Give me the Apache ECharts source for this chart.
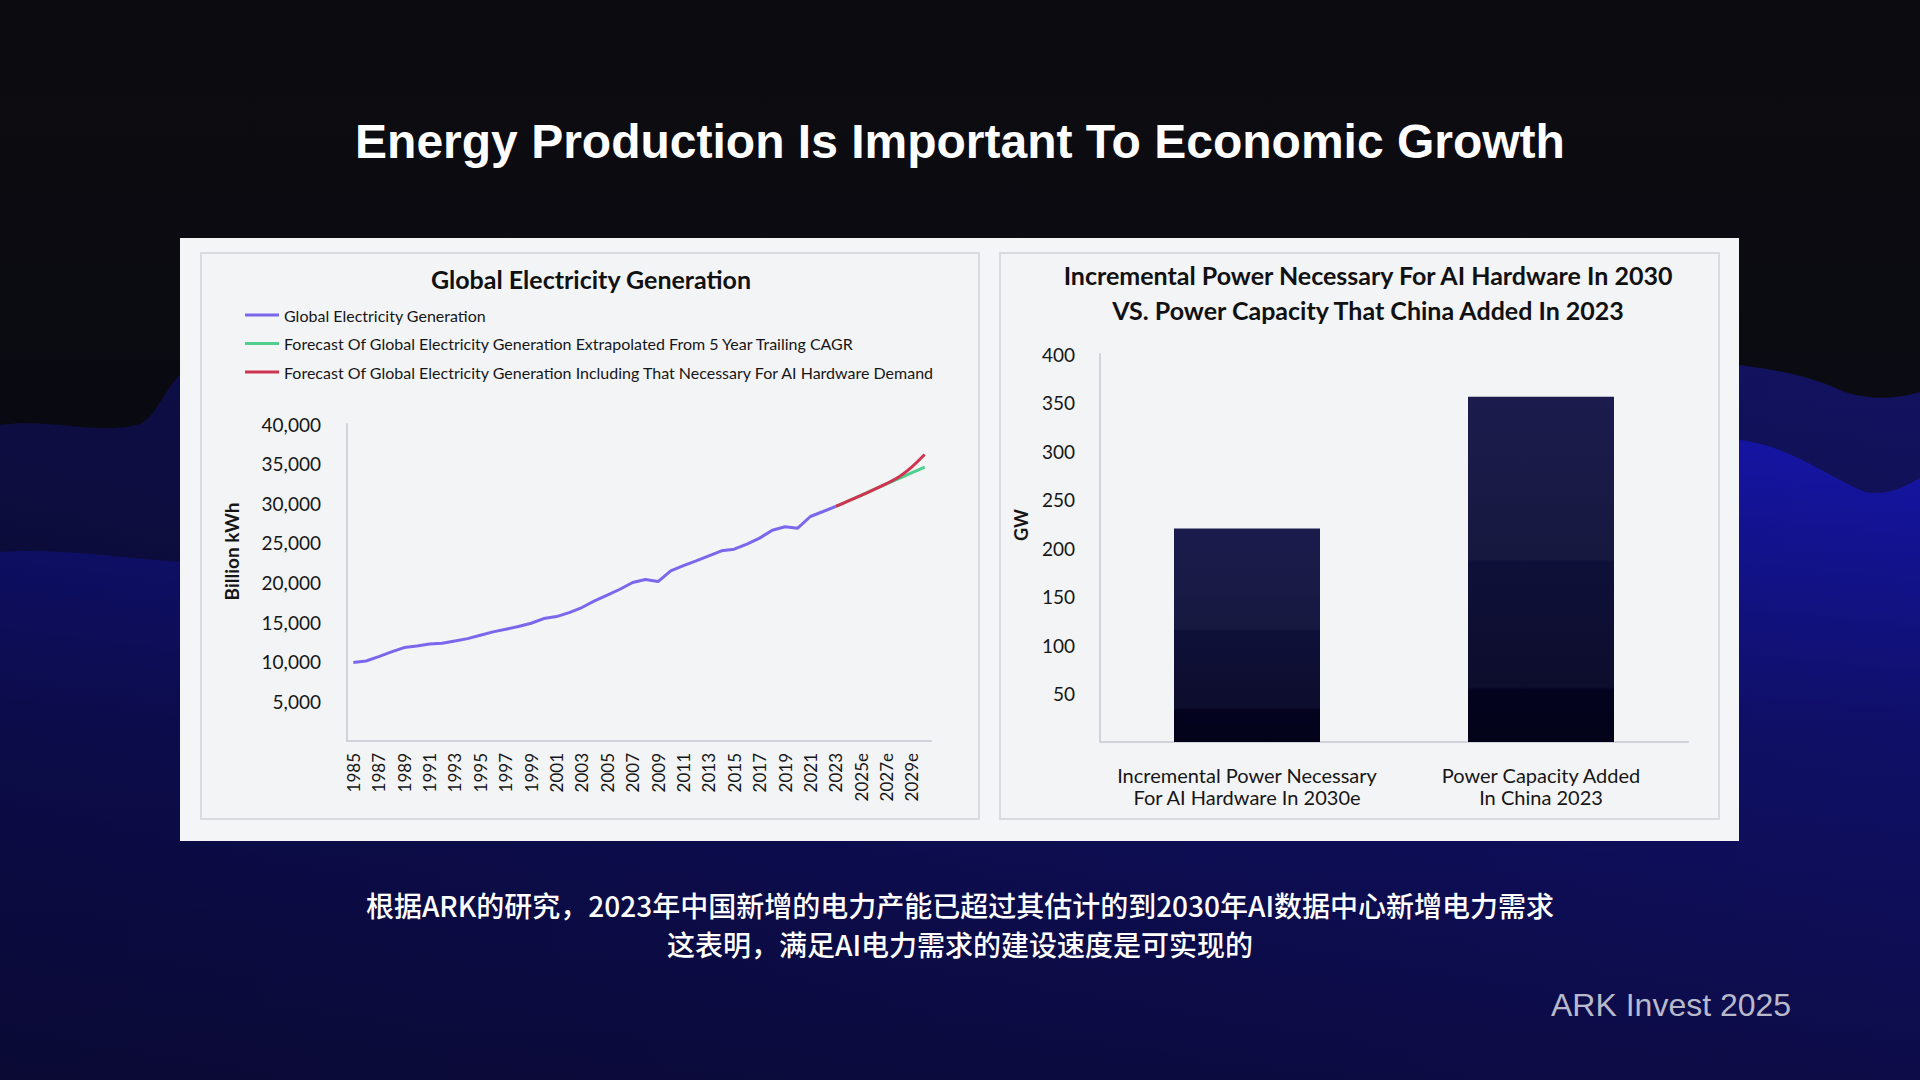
<!DOCTYPE html>
<html>
<head>
<meta charset="utf-8">
<script src="https://cdn.jsdelivr.net/npm/echarts@6/dist/echarts.min.js"></script>
<style>
html,body{margin:0;padding:0;width:1920px;height:1080px;overflow:hidden;background:#0b0b10;}
#bg{position:absolute;left:0;top:0;width:1920px;height:1080px;}
.panel{position:absolute;left:180px;top:238px;width:1559px;height:603px;background:#f4f5f7;}
.box{position:absolute;top:252px;height:568px;background:#f3f4f6;border:2px solid #d9dbe0;box-sizing:border-box;}
#chart{position:absolute;left:0;top:0;width:1920px;height:1080px;}
</style>
</head>
<body>
<svg id="bg" width="1920" height="1080" viewBox="0 0 1920 1080" xmlns="http://www.w3.org/2000/svg">
  <defs>
    <linearGradient id="base" x1="0" y1="0" x2="0" y2="1">
      <stop offset="0" stop-color="#0c0c10"/>
      <stop offset="0.4" stop-color="#0b0b13"/>
      <stop offset="1" stop-color="#0a0a26"/>
    </linearGradient>
    <linearGradient id="w1" gradientUnits="userSpaceOnUse" x1="0" y1="360" x2="0" y2="1080">
      <stop offset="0" stop-color="#121262"/>
      <stop offset="1" stop-color="#0a0a28"/>
    </linearGradient>
    <linearGradient id="w2" gradientUnits="userSpaceOnUse" x1="0" y1="440" x2="0" y2="1080">
      <stop offset="0" stop-color="#1515a8"/>
      <stop offset="0.45" stop-color="#0f0f68"/>
      <stop offset="1" stop-color="#0d0c48"/>
    </linearGradient>
    <linearGradient id="shade" x1="0" y1="0" x2="1" y2="0">
      <stop offset="0" stop-color="#05050f" stop-opacity="0.35"/>
      <stop offset="0.6" stop-color="#05050f" stop-opacity="0.15"/>
      <stop offset="1" stop-color="#05050f" stop-opacity="0"/>
    </linearGradient>
  </defs>
  <rect x="0" y="0" width="1920" height="1080" fill="url(#base)"/>
  <path d="M0,425 C50,418 100,436 140,424 C160,416 168,372 200,362 L1720,362 C1760,368 1800,372 1840,390 C1870,402 1900,398 1920,392 L1920,1080 L0,1080 Z" fill="url(#w1)"/>
  <path d="M0,552 C60,548 120,558 180,562 L1740,440 C1790,446 1830,478 1865,492 C1890,496 1905,486 1920,478 L1920,1080 L0,1080 Z" fill="url(#w2)"/>
  <rect x="0" y="360" width="1920" height="720" fill="url(#shade)"/>
</svg>
<div class="panel"></div>
<div class="box" style="left:200px;width:780px;"></div>
<div class="box" style="left:999px;width:721px;"></div>
<div id="chart"></div>
<script>
// ---- Data ----
const yearLabels = ['1985','1986','1987','1988','1989','1990','1991','1992','1993','1994','1995','1996','1997','1998','1999','2000','2001','2002','2003','2004','2005','2006','2007','2008','2009','2010','2011','2012','2013','2014','2015','2016','2017','2018','2019','2020','2021','2022','2023','2024e','2025e','2026e','2027e','2028e','2029e','2030e'];
// Global electricity generation, billion kWh, 1985-2023
const historical = [9900,10100,10650,11240,11790,12000,12250,12330,12630,12920,13350,13770,14100,14440,14860,15450,15700,16200,16840,17680,18400,19150,20000,20380,20120,21470,22140,22730,23370,24000,24200,24840,25600,26600,27030,26860,28330,28960,29600];
// Forecasts 2023-2030
const forecastTrailingCAGR = [29600,30300,31000,31720,32450,33150,33850,34550];
const forecastWithAI = [29600,30300,31000,31720,32480,33350,34600,36150];
const legendNames = [
  'Global Electricity Generation',
  'Forecast Of Global Electricity Generation Extrapolated From 5 Year Trailing CAGR',
  'Forecast Of Global Electricity Generation Including That Necessary For AI Hardware Demand'
];
const barCategories = ['Incremental Power Necessary\nFor AI Hardware In 2030e', 'Power Capacity Added\nIn China 2023'];
const barValuesGW = [220, 356];

// ---- Build series data ----
const histData = yearLabels.map((_, i) => i < historical.length ? historical[i] : null);
const fStart = historical.length - 1;
const trailData = yearLabels.map((_, i) => i >= fStart ? forecastTrailingCAGR[i - fStart] : null);
const aiData = yearLabels.map((_, i) => i >= fStart ? forecastWithAI[i - fStart] : null);

const chart = echarts.init(document.getElementById('chart'), null, {renderer: 'svg'});
const F = 'Lato, "Open Sans", sans-serif';
const axisGray = '#d0d3d9';
const txt = '#161616';

chart.setOption({
  backgroundColor: 'transparent',
  animation: false,
  legend: {
    orient: 'vertical', left: 245, top: 306, padding: 0,
    itemWidth: 34, itemHeight: 3, itemGap: 10.5, icon: 'rect',
    textStyle: {fontFamily: F, fontSize: 16, color: txt, lineHeight: 18},
    data: legendNames
  },
  grid: [
    {left: 347, top: 424, width: 584, height: 317, outerBoundsMode: 'none', containLabel: false},
    {left: 1100, top: 354, width: 588, height: 388, outerBoundsMode: 'none', containLabel: false}
  ],
  xAxis: [
    {
      type: 'category', gridIndex: 0, data: yearLabels, boundaryGap: true,
      axisLine: {show: true, lineStyle: {color: axisGray, width: 2}},
      axisTick: {show: false},
      splitLine: {show: false},
      axisLabel: {rotate: 90, interval: 1, margin: 12, fontFamily: F, fontSize: 17, color: txt}
    },
    {
      type: 'category', gridIndex: 1, data: barCategories,
      axisLine: {show: true, lineStyle: {color: axisGray, width: 2}},
      axisTick: {show: false},
      splitLine: {show: false},
      axisLabel: {margin: 22, fontFamily: F, fontSize: 20, lineHeight: 22, color: txt, interval: 0}
    }
  ],
  yAxis: [
    {
      type: 'value', gridIndex: 0, min: 0, max: 40000, interval: 5000,
      axisLine: {show: true, lineStyle: {color: axisGray, width: 2}},
      axisTick: {show: false},
      splitLine: {show: false},
      axisLabel: {showMinLabel: false, margin: 26, fontFamily: F, fontSize: 19, color: txt,
        formatter: v => v.toLocaleString('en-US')},
      name: 'Billion kWh', nameLocation: 'middle', nameGap: 106,
      nameTextStyle: {fontFamily: F, fontSize: 19, fontWeight: 'bold', color: txt, padding: [0, 0, 0, 62]}
    },
    {
      type: 'value', gridIndex: 1, min: 0, max: 400, interval: 50,
      axisLine: {show: true, lineStyle: {color: axisGray, width: 2}},
      axisTick: {show: false},
      splitLine: {show: false},
      axisLabel: {showMinLabel: false, margin: 25, fontFamily: F, fontSize: 19, color: txt},
      name: 'GW', nameLocation: 'middle', nameGap: 70,
      nameTextStyle: {fontFamily: F, fontSize: 18, fontWeight: 'bold', color: txt, padding: [0, 0, 0, 46]}
    }
  ],
  series: [
    {name: legendNames[1], type: 'line', xAxisIndex: 0, yAxisIndex: 0, data: trailData, symbol: 'none', smooth: 0.3,
      lineStyle: {width: 3, color: '#4fcf8b'}, itemStyle: {color: '#4fcf8b'}, z: 2},
    {name: legendNames[2], type: 'line', xAxisIndex: 0, yAxisIndex: 0, data: aiData, symbol: 'none', smooth: 0.3,
      lineStyle: {width: 3, color: '#cf3450'}, itemStyle: {color: '#cf3450'}, z: 3},
    {name: legendNames[0], type: 'line', xAxisIndex: 0, yAxisIndex: 0, data: histData, symbol: 'none',
      lineStyle: {width: 3, color: '#7a68ec'}, itemStyle: {color: '#7a68ec'}, z: 4},
    {type: 'bar', xAxisIndex: 1, yAxisIndex: 1, data: barValuesGW, barWidth: 146,
      itemStyle: {color: {type: 'linear', x: 0, y: 0, x2: 0, y2: 1, colorStops: [
        {offset: 0, color: '#1b1c4d'}, {offset: 0.47, color: '#17183f'},
        {offset: 0.48, color: '#0f1039'}, {offset: 0.84, color: '#0d0d2d'},
        {offset: 0.85, color: '#03031f'}, {offset: 1, color: '#020218'}]}}}
  ],
  graphic: [
    {type: 'text', x: 960, y: 141, z: 10, style: {text: 'Energy Production Is Important To Economic Growth',
      fill: '#ffffff', font: 'bold 48px "Liberation Sans", Arial, sans-serif', align: 'center', verticalAlign: 'middle'}},
    {type: 'text', x: 591, y: 279, z: 10, style: {text: 'Global Electricity Generation',
      fill: '#111111', font: 'bold 25px Lato, sans-serif', align: 'center', verticalAlign: 'middle'}},
    {type: 'text', x: 1368, y: 292.5, z: 10, style: {text: 'Incremental Power Necessary For AI Hardware In 2030\nVS. Power Capacity That China Added In 2023',
      fill: '#111111', font: 'bold 25px Lato, sans-serif', lineHeight: 35, align: 'center', verticalAlign: 'middle'}},
    {type: 'text', x: 960, y: 905, z: 10, style: {text: '根据ARK的研究，2023年中国新增的电力产能已超过其估计的到2030年AI数据中心新增电力需求',
      fill: '#ffffff', font: '500 28px "Noto Sans CJK SC", sans-serif', align: 'center', verticalAlign: 'middle'}},
    {type: 'text', x: 960, y: 944, z: 10, style: {text: '这表明，满足AI电力需求的建设速度是可实现的',
      fill: '#ffffff', font: '500 28px "Noto Sans CJK SC", sans-serif', align: 'center', verticalAlign: 'middle'}},
    {type: 'text', x: 1551, y: 1005, z: 10, style: {text: 'ARK Invest 2025',
      fill: '#b8bacb', font: '32px "Liberation Sans", Arial, sans-serif', align: 'left', verticalAlign: 'middle'}}
  ]
});
</script>
</body>
</html>
